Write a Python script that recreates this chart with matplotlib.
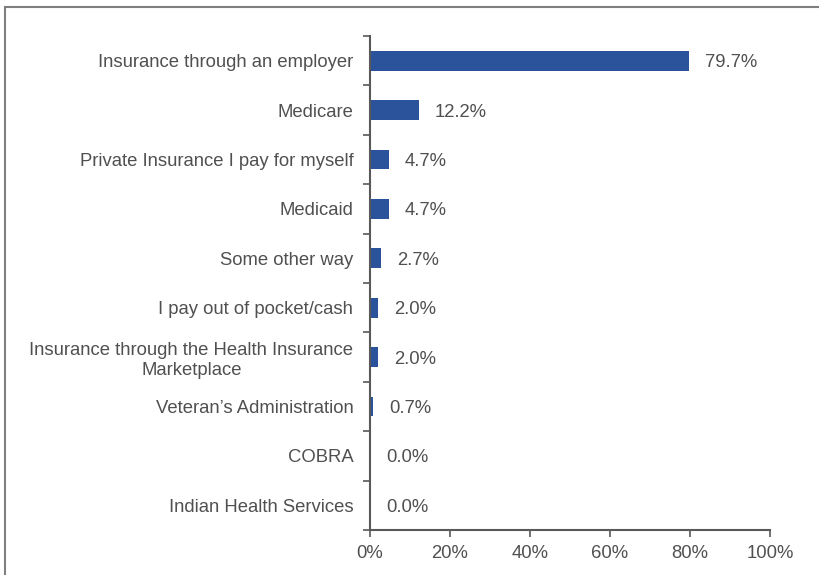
import matplotlib
matplotlib.use("Agg")
import matplotlib.pyplot as plt
from matplotlib.patches import Rectangle
import numpy as np

categories = [
    "Insurance through an employer",
    "Medicare",
    "Private Insurance I pay for myself",
    "Medicaid",
    "Some other way",
    "I pay out of pocket/cash",
    "Insurance through the Health Insurance\nMarketplace",
    "Veteran\u2019s Administration",
    "COBRA",
    "Indian Health Services",
]
values = [79.7, 12.2, 4.7, 4.7, 2.7, 2.0, 2.0, 0.7, 0.0, 0.0]
xticks = [0, 20, 40, 60, 80, 100]

plt.rcParams['font.family'] = ['Liberation Sans', 'DejaVu Sans']
text_color = "#505050"
spine_color = "#595959"
bar_color = "#2A539B"
fs = 13.3

fig = plt.figure(figsize=(8.2, 5.75), dpi=100)
ax = fig.add_axes([370/820, 1-530/575, 400/820, 494/575])

y = np.arange(len(categories))
ax.barh(y, values, height=0.4, color=bar_color)
ax.set_ylim(len(categories)-0.5, -0.5)
ax.set_xlim(0, 100)

ax.set_yticks(y)
ax.set_yticklabels(categories, fontsize=fs, color=text_color, multialignment='center',
                   linespacing=1.25)
ax.tick_params(axis='y', which='major', length=0, pad=12)
ax.set_yticks(np.arange(-0.5, len(categories), 1), minor=True)
ax.tick_params(axis='y', which='minor', length=5, width=1.2, color=spine_color, direction='out')

ax.set_xticks(xticks)
ax.set_xticklabels([f"{t}%" for t in xticks], fontsize=fs, color=text_color)
ax.tick_params(axis='x', length=5, width=1.2, color=spine_color, pad=5.5)

for s in ['top', 'right']:
    ax.spines[s].set_visible(False)
for s in ['left', 'bottom']:
    ax.spines[s].set_color(spine_color)
    ax.spines[s].set_linewidth(1.5)

for yi, v in zip(y, values):
    ax.annotate(f"{v:.1f}%", xy=(v, yi), xytext=(11.5, -1.5), textcoords='offset points',
                va='center', ha='left', fontsize=fs, color=text_color)

fig.add_artist(Rectangle((5/820, -0.1), 1.0, 1.0 - 7/575 + 0.1, transform=fig.transFigure,
                         fill=False, edgecolor="#7f7f7f", linewidth=1.5))

fig.savefig("out.png", dpi=100)
